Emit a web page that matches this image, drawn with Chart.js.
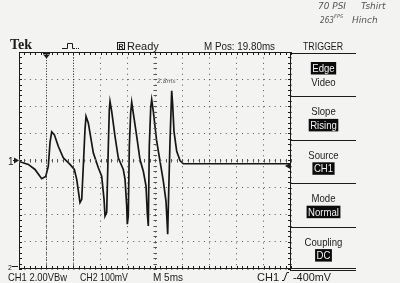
<!DOCTYPE html>
<html>
<head>
<meta charset="utf-8">
<style>
  html, body { margin: 0; padding: 0; background: #f3f3f1; }
  #wrap { width: 400px; height: 283px; }
</style>
<script src="https://cdn.jsdelivr.net/npm/chart.js@4.4.1/dist/chart.umd.min.js"></script>
</head>
<body>
<div id="wrap"><canvas id="scope" width="400" height="283"></canvas></div>
<script>
// CH1 trace: time in ms (5 ms/div), level in V (2 V/div)
const timeMs = [0, 1.71, 2.94, 4.17, 4.91, 5.39, 5.70, 6.01, 6.49, 7.22,
  8.14, 9.38, 10.17, 10.61, 11.21, 11.53, 11.82, 12.13, 12.32, 12.74,
  13.66, 14.58, 15.20, 15.63, 15.81, 16.12, 16.42, 16.60, 16.73, 17.04,
  17.65, 18.25, 19.17, 19.49, 19.80, 19.91, 20.09, 20.28, 20.53, 20.72,
  21.01, 21.64, 22.24, 22.85, 23.35, 23.58, 23.77, 23.95, 24.21, 24.39,
  24.69, 25.31, 25.92, 26.53, 27.02, 27.26, 27.33, 27.52, 27.76, 28.07,
  28.25, 28.49, 28.99, 29.60, 30.20, 50];
const volts = [-0.07, -0.29, -0.66, -1.34, -1.17, -0.42, 1.32, 2.11, 1.91, 1.05,
  0.20, -0.29, -0.66, -1.39, -3.10, -2.86, -0.42, 2.28, 3.25, 2.77,
  0.57, -0.54, -1.15, -2.86, -4.09, -3.82, 1.05, 3.74, 4.35, 3.62,
  1.78, 0.20, -0.66, -1.39, -3.35, -4.70, -4.09, 1.05, 3.50, 4.29,
  3.50, 1.78, 0.07, -0.79, -1.89, -3.84, -4.82, 1.05, 3.87, 4.48,
  3.62, 1.42, -0.05, -1.52, -2.99, -4.82, -5.43, -2.25, 1.42, 5.14,
  4.11, 2.15, 0.68, 0, -0.24, -0.24];

// graticule: 10 x 8 divisions
const xRangeMs = [0, 50];
const xDivMs = 5;
const yRangeV = [-8, 8];
const yDivV = 2;

const triggerLevelV = -0.4;
const cursorTimesMs = [5, 10];

// side menu: [upper label, lower label, which one is highlighted]
const menuItems = [
  ["Edge", "Video", 0],
  ["Slope", "Rising", 1],
  ["Source", "CH1", 1],
  ["Mode", "Normal", 1],
  ["Coupling", "DC", 1]
];

const ink = "#1b1b1b";
const sans = '"Liberation Sans", Arial, sans-serif';

function txt(ctx, s, x, y, size, opt) {
  opt = opt || {};
  ctx.font = (opt.weight || "") + " " + (opt.style || "") + " " + size + "px " + (opt.family || sans);
  ctx.fillStyle = opt.color || ink;
  ctx.textAlign = opt.align || "left";
  ctx.textBaseline = "alphabetic";
  if (opt.maxWidth) ctx.fillText(s, x, y, opt.maxWidth);
  else ctx.fillText(s, x, y);
}

const scopeDecor = {
  id: "scopeDecor",
  beforeDraw(chart) {
    const ctx = chart.ctx;
    ctx.save();
    ctx.fillStyle = "#f3f3f1";
    ctx.fillRect(0, 0, chart.width, chart.height);
    ctx.restore();
  },
  afterDraw(chart) {
    const ctx = chart.ctx;
    const { left, right, top, bottom } = chart.chartArea;
    const xs = chart.scales.x, ys = chart.scales.y;
    const cx = xs.getPixelForValue(25), cy = ys.getPixelForValue(0);
    ctx.save();
    ctx.strokeStyle = ink;
    ctx.lineWidth = 1;

    // frame
    ctx.strokeRect(left + 0.5, top + 0.5, right - left - 1, bottom - top - 1);

    // minor ticks, 5 per division
    ctx.beginPath();
    for (let t = xRangeMs[0]; t <= xRangeMs[1]; t += xDivMs / 5) {
      const x = Math.round(xs.getPixelForValue(t)) + 0.5;
      ctx.moveTo(x, top); ctx.lineTo(x, top + 3);
      ctx.moveTo(x, bottom); ctx.lineTo(x, bottom - 3);
    }
    for (let v = yRangeV[0]; v <= yRangeV[1]; v += yDivV / 5) {
      const y = Math.round(ys.getPixelForValue(v)) + 0.5;
      ctx.moveTo(left, y); ctx.lineTo(left + 3, y);
      ctx.moveTo(right, y); ctx.lineTo(right - 3, y);
    }
    ctx.stroke();
    ctx.strokeStyle = "#555";
    ctx.beginPath();
    for (let t = xRangeMs[0]; t <= xRangeMs[1]; t += xDivMs / 5) {
      const x = Math.round(xs.getPixelForValue(t)) + 0.5;
      ctx.moveTo(x, cy - 1.5); ctx.lineTo(x, cy + 2);
    }
    for (let v = yRangeV[0]; v <= yRangeV[1]; v += yDivV / 5) {
      const y = Math.round(ys.getPixelForValue(v)) + 0.5;
      ctx.moveTo(cx - 1.5, y); ctx.lineTo(cx + 2, y);
    }
    ctx.stroke();

    // cursor lines
    ctx.setLineDash([1, 1.7]);
    ctx.strokeStyle = "#333";
    cursorTimesMs.forEach(t => {
      const x = Math.round(xs.getPixelForValue(t)) + 0.5;
      ctx.beginPath(); ctx.moveTo(x, top); ctx.lineTo(x, bottom); ctx.stroke();
    });
    ctx.setLineDash([]);
    ctx.strokeStyle = ink;

    // trigger position marker
    const tx = Math.round(xs.getPixelForValue(cursorTimesMs[0])) + 0.5;
    ctx.fillStyle = ink;
    ctx.fillRect(tx - 3.5, top + 1, 7, 1.5);
    ctx.beginPath();
    ctx.moveTo(tx - 3, top + 3); ctx.lineTo(tx + 3, top + 3); ctx.lineTo(tx, top + 6.5);
    ctx.closePath(); ctx.fill();

    // trigger level arrow on the right edge
    const ty = ys.getPixelForValue(triggerLevelV);
    ctx.beginPath();
    ctx.moveTo(right - 6, ty); ctx.lineTo(right, ty - 3.5); ctx.lineTo(right, ty + 3.5);
    ctx.closePath(); ctx.fill();

    // channel ground markers
    txt(ctx, "1", 8, cy + 4, 10);
    ctx.beginPath();
    ctx.moveTo(left, cy); ctx.lineTo(left - 5, cy - 3); ctx.lineTo(left - 5, cy + 3);
    ctx.closePath(); ctx.fill();
    ctx.fillRect(13, cy - 0.5, 3, 1);
    txt(ctx, "2", 8, bottom + 0.5, 7);
    ctx.fillRect(12, bottom - 3, 6, 1);

    // header
    txt(ctx, "Tek", 10, 49, 14, { weight: "bold", family: '"Liberation Serif", serif' });
    ctx.beginPath();
    ctx.moveTo(62, 48.5); ctx.lineTo(67.5, 48.5); ctx.lineTo(67.5, 43.5);
    ctx.lineTo(72.5, 43.5); ctx.lineTo(72.5, 48.5); ctx.lineTo(74, 48.5);
    ctx.stroke();
    ctx.setLineDash([1, 1]);
    ctx.beginPath(); ctx.moveTo(74, 48.5); ctx.lineTo(80, 48.5); ctx.stroke();
    ctx.setLineDash([]);
    ctx.strokeRect(117.5, 42.5, 7, 7);
    txt(ctx, "R", 121, 48.5, 7, { align: "center", weight: "bold" });
    txt(ctx, "Ready", 127, 49.5, 11, { maxWidth: 33 });
    txt(ctx, "M Pos: 19.80ms", 204, 49.5, 11, { maxWidth: 71 });
    txt(ctx, "TRIGGER", 303, 49.5, 11, { maxWidth: 40 });

    // side menu
    const menuLeft = right - 1, menuRight = 356, mx = 323.5;
    const secTop = top + 1, secH = (bottom - top) / menuItems.length;
    ctx.beginPath();
    for (let i = 0; i <= menuItems.length; i++) {
      const y = Math.round(secTop + i * secH) + 0.5;
      ctx.moveTo(menuLeft, y); ctx.lineTo(menuRight, y);
    }
    ctx.stroke();
    menuItems.forEach((item, i) => {
      const y0 = secTop + i * secH;
      [item[0], item[1]].forEach((label, k) => {
        const base = y0 + (k === 0 ? 19 : 32.5);
        ctx.font = "11px " + sans;
        const w = ctx.measureText(label).width * 0.87;
        if (item[2] === k) {
          ctx.fillStyle = "#0c0c0c";
          ctx.fillRect(mx - w / 2 - 1.5, base - 10, w + 3, 12.5);
          txt(ctx, label, mx, base, 11, { align: "center", color: "#f4f4f4", maxWidth: w });
        } else {
          txt(ctx, label, mx, base, 11, { align: "center", maxWidth: w });
        }
      });
    });

    // footer
    ctx.beginPath();
    ctx.moveTo(right, bottom - 0.5); ctx.lineTo(menuRight, bottom - 0.5);
    ctx.stroke();
    txt(ctx, "CH1 2.00VBw", 8, 281, 11, { maxWidth: 59 });
    txt(ctx, "CH2 100mV", 80, 281, 11, { maxWidth: 48 });
    txt(ctx, "M 5ms", 153, 281, 11, { maxWidth: 30 });
    txt(ctx, "CH1", 257, 281, 11, { maxWidth: 22 });
    ctx.beginPath();
    ctx.moveTo(282, 280.5); ctx.lineTo(284, 280.5); ctx.lineTo(287, 272.5); ctx.lineTo(289, 272.5);
    ctx.stroke();
    txt(ctx, "-400mV", 293, 281, 11, { maxWidth: 38 });

    // handwritten notes
    const pen = { style: "italic", color: "#555", family: '"DejaVu Sans", sans-serif' };
    txt(ctx, "70 PSI", 318, 9, 9, Object.assign({ maxWidth: 28 }, pen));
    txt(ctx, "Tshirt", 361, 9, 9, Object.assign({ maxWidth: 28 }, pen));
    txt(ctx, "263", 320, 23, 9, Object.assign({ maxWidth: 14 }, pen));
    txt(ctx, "FPS", 334, 18, 5, Object.assign({ maxWidth: 10 }, pen));
    txt(ctx, "Hinch", 352, 23, 9, Object.assign({ maxWidth: 28 }, pen));
    txt(ctx, "2.8ms", cx + 2, 83, 6, Object.assign({ maxWidth: 22 }, pen));
    ctx.restore();
  }
};

new Chart(document.getElementById("scope"), {
  type: "line",
  data: {
    datasets: [{
      data: timeMs.map((t, i) => ({ x: t, y: volts[i] })),
      borderColor: "#161616",
      borderWidth: 1.7,
      pointRadius: 0,
      tension: 0,
      fill: false
    }]
  },
  options: {
    responsive: false,
    animation: false,
    devicePixelRatio: 1,
    layout: { padding: { left: 19, right: 109, top: 52, bottom: 14 } },
    plugins: { legend: { display: false }, tooltip: { enabled: false } },
    scales: {
      x: {
        type: "linear", min: xRangeMs[0], max: xRangeMs[1],
        ticks: { display: false, stepSize: xDivMs },
        grid: { color: "#555", lineWidth: 1, drawTicks: false },
        border: { display: false, dash: [1, 4.44] }
      },
      y: {
        type: "linear", min: yRangeV[0], max: yRangeV[1],
        ticks: { display: false, stepSize: yDivV },
        grid: { color: "#555", lineWidth: 1, drawTicks: false },
        border: { display: false, dash: [1, 4.44] }
      }
    }
  },
  plugins: [scopeDecor]
});
</script>
</body>
</html>
